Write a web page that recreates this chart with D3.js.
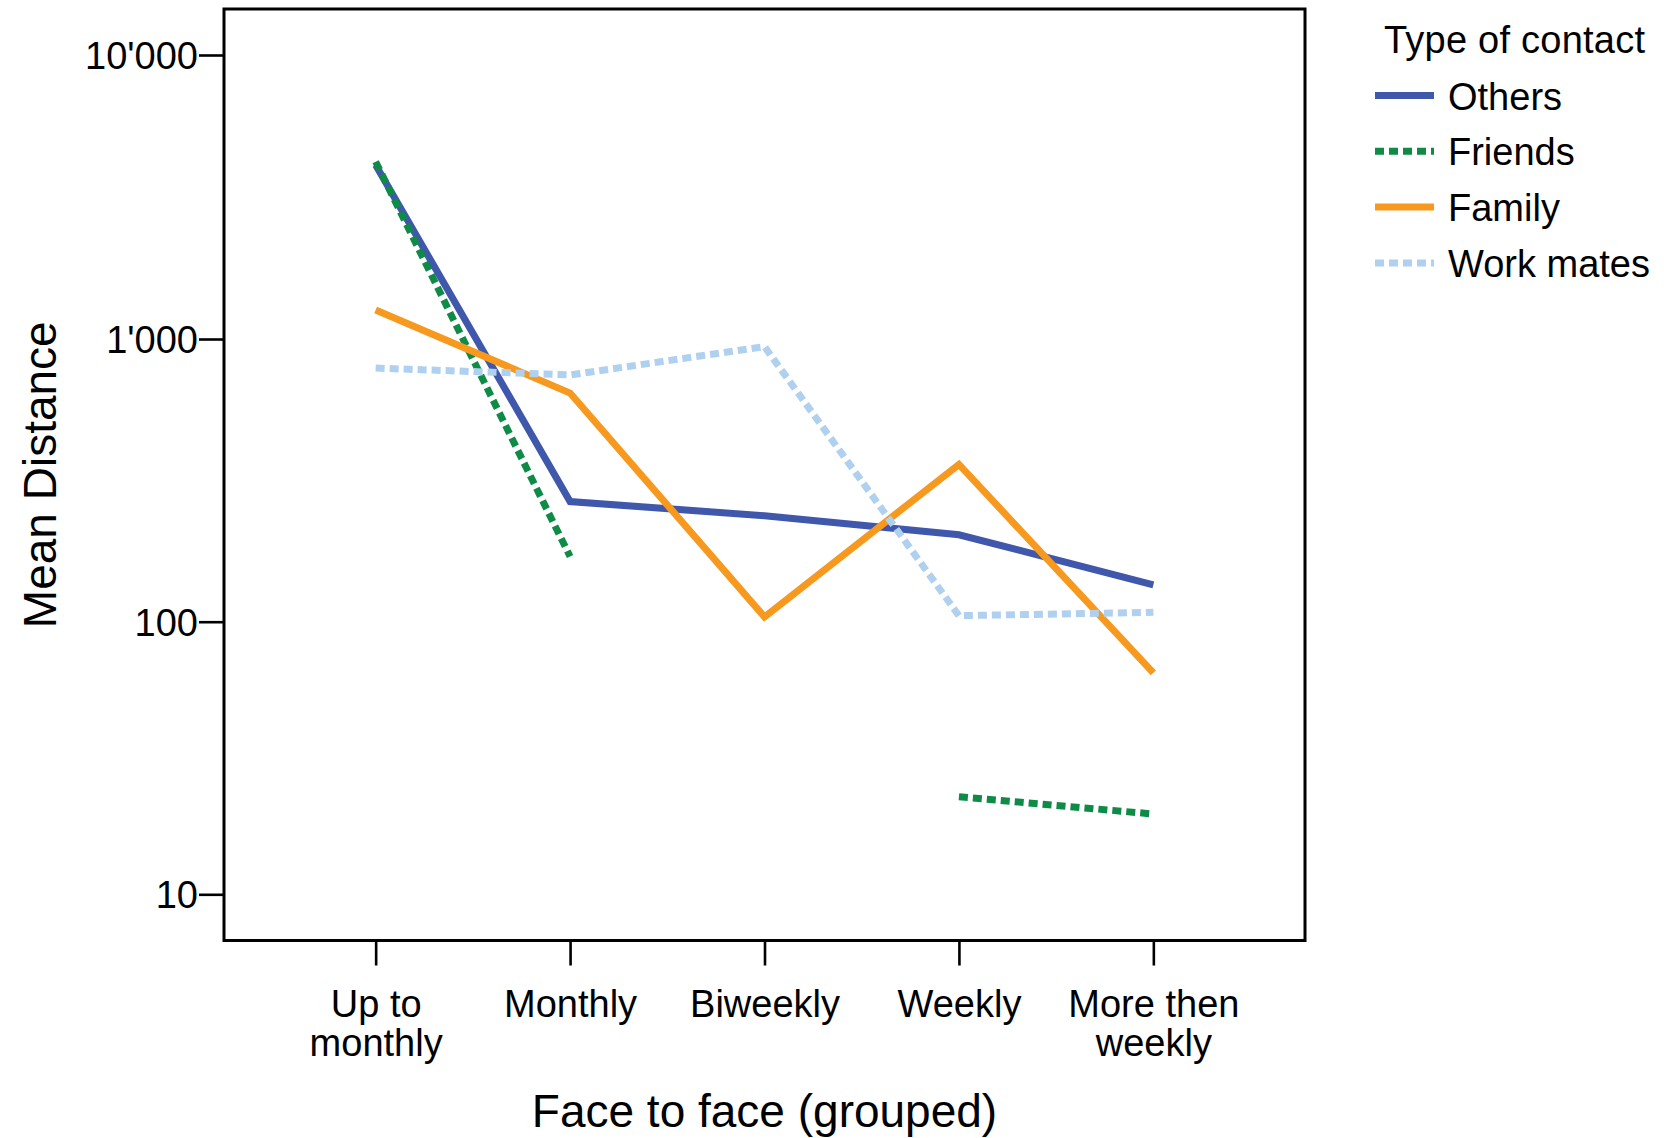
<!DOCTYPE html>
<html>
<head>
<meta charset="utf-8">
<script src="https://cdn.jsdelivr.net/npm/d3@7"></script>
<style>
  html, body { margin: 0; padding: 0; background: #fff; }
  svg { display: block; }
  text { font-family: "Liberation Sans", Arial, Helvetica, sans-serif; fill: #000; }
</style>
</head>
<body>
<svg id="chart" width="1664" height="1138"></svg>
<script>
// ---- data ----
const categories = ["Up to monthly", "Monthly", "Biweekly", "Weekly", "More then weekly"];
const categoryLabelLines = [["Up to", "monthly"], ["Monthly"], ["Biweekly"], ["Weekly"], ["More then", "weekly"]];
const seriesNames = ["Others", "Friends", "Family", "Work mates"];
const others    = [4100, 266, 237, 203, 135];
const friends   = [4210, 170, null, 22.8, 19.7];
const family    = [1265, 644, 104, 360, 64.9];
const workmates = [789, 746, 940, 105, 108];
const yTickValues = [10, 100, 1000, 10000];
const yTickLabels = ["10", "100", "1'000", "10'000"];

const seriesValues = [others, friends, family, workmates];
const seriesColors = ["#3f58ab", "#0e8b47", "#f7991f", "#afd0ef"];
const seriesDash = [null, "9,5", null, "9,5"];

// ---- layout ----
const svg = d3.select("#chart");
const frame = { left: 224, right: 1305, top: 9, bottom: 940.5 };

const x = d3.scalePoint()
  .domain(categories)
  .range([frame.left, frame.right])
  .padding(0.78);

const y = d3.scaleLog()
  .domain([10, 100, 1000, 10000])
  .range([894.3, 621.7, 339, 55]);

const fontTick = 38;

// frame
svg.append("rect")
  .attr("x", frame.left).attr("y", frame.top)
  .attr("width", frame.right - frame.left)
  .attr("height", frame.bottom - frame.top)
  .attr("fill", "none").attr("stroke", "#000").attr("stroke-width", 3);

// y axis
const yAxis = d3.axisLeft(y)
  .tickValues(yTickValues)
  .tickFormat((d, i) => yTickLabels[i])
  .tickSizeOuter(0)
  .tickSize(25)
  .tickPadding(1);
const gy = svg.append("g").attr("transform", `translate(${frame.left},0)`).call(yAxis);
gy.select(".domain").remove();
gy.selectAll(".tick line").attr("stroke", "#000").attr("stroke-width", 2.6);
gy.selectAll(".tick text")
  .attr("font-size", fontTick)
  .attr("font-family", "Liberation Sans, Arial, sans-serif")
  .attr("fill", "#000")
  .attr("dy", "0.36em");

// x axis
const xAxis = d3.axisBottom(x).tickSizeOuter(0).tickSize(25).tickFormat("");
const gx = svg.append("g").attr("transform", `translate(0,${frame.bottom})`).call(xAxis);
gx.select(".domain").remove();
gx.selectAll(".tick line").attr("stroke", "#000").attr("stroke-width", 2.6);
gx.selectAll(".tick").each(function (d, i) {
  const t = d3.select(this).append("text")
    .attr("text-anchor", "middle")
    .attr("font-size", fontTick)
    .attr("fill", "#000");
  categoryLabelLines[i].forEach((ln, j) => {
    t.append("tspan").attr("x", 0).attr("y", 76 + j * 39.5).text(ln);
  });
});

// axis titles
svg.append("text")
  .attr("x", (frame.left + frame.right) / 2)
  .attr("y", 1127)
  .attr("text-anchor", "middle")
  .attr("font-size", 46)
  .text("Face to face (grouped)");

svg.append("text")
  .attr("transform", `translate(56,${(frame.top + frame.bottom) / 2}) rotate(-90)`)
  .attr("text-anchor", "middle")
  .attr("font-size", 46)
  .text("Mean Distance");

// lines
const line = d3.line()
  .defined(d => d.v != null)
  .x(d => x(d.c))
  .y(d => y(d.v));

seriesValues.forEach((vals, s) => {
  const pts = vals.map((v, i) => ({ c: categories[i], v }));
  svg.append("path")
    .datum(pts)
    .attr("d", line)
    .attr("fill", "none")
    .attr("stroke", seriesColors[s])
    .attr("stroke-width", 7)
    .attr("stroke-linejoin", "miter")
    .attr("stroke-dasharray", seriesDash[s]);
});

// legend
const lg = svg.append("g");
lg.append("text")
  .attr("x", 1384).attr("y", 53)
  .attr("font-size", fontTick)
  .attr("textLength", 261)
  .text("Type of contact");
seriesNames.forEach((name, i) => {
  const yy = 95.5 + i * 55.8;
  lg.append("line")
    .attr("x1", 1375).attr("x2", 1434)
    .attr("y1", yy).attr("y2", yy)
    .attr("stroke", seriesColors[i])
    .attr("stroke-width", 7)
    .attr("stroke-dasharray", seriesDash[i]);
  lg.append("text")
    .attr("x", 1448).attr("y", yy + 14)
    .attr("font-size", fontTick)
    .text(name);
});
</script>
</body>
</html>
